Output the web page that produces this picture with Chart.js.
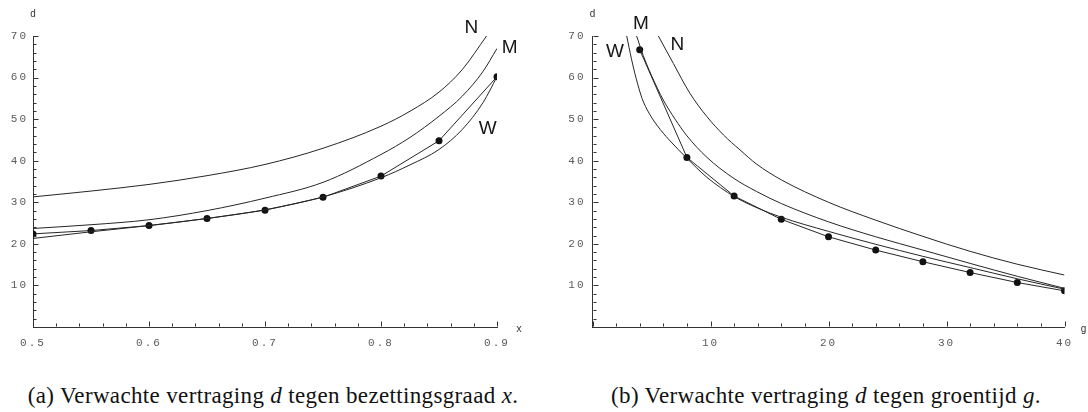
<!DOCTYPE html>
<html>
<head>
<meta charset="utf-8">
<script src="https://cdn.jsdelivr.net/npm/chart.js@4/dist/chart.umd.min.js"></script>
<style>
  html, body { margin: 0; padding: 0; background: #fff; }
  body { width: 1088px; height: 412px; position: relative; overflow: hidden; }
  .wrap { position: absolute; top: 0; width: 544px; height: 360px; }
  .cap { position: absolute; top: 383px; transform: translateX(-50%); white-space: nowrap;
         font-family: "Liberation Serif", "DejaVu Serif", serif; font-size: 23px; letter-spacing: 0.35px; color: #111; }
</style>
</head>
<body>
<div class="wrap" style="left:0"><canvas id="left"></canvas></div>
<div class="wrap" style="left:544px"><canvas id="right"></canvas></div>
<div class="cap" style="left:273px">(a) Verwachte vertraging <i>d</i> tegen bezettingsgraad <i>x</i>.</div>
<div class="cap" style="left:826px">(b) Verwachte vertraging <i>d</i> tegen groentijd <i>g</i>.</div>
<script>
// (a) delay d against occupancy x
const xTicksA = [0.5, 0.6, 0.7, 0.8, 0.9];
const dotsXA = [0.5, 0.55, 0.6, 0.65, 0.7, 0.75, 0.8, 0.85, 0.9];
const dotsDA = [22.4, 23.2, 24.4, 26.1, 28.1, 31.2, 36.3, 44.8, 60.2];
const nXA = [0.5, 0.55, 0.6, 0.65, 0.7, 0.75, 0.8, 0.825, 0.85, 0.87, 0.891];
const nDA = [31.3, 32.7, 34.3, 36.4, 39.1, 43.0, 48.3, 51.9, 56.5, 61.9, 70.0];
const mXA = [0.5, 0.55, 0.6, 0.65, 0.7, 0.75, 0.8, 0.825, 0.85, 0.87, 0.888, 0.9];
const mDA = [23.7, 24.6, 25.8, 28.0, 31.0, 34.8, 41.5, 45.6, 50.7, 55.5, 61.5, 67.0];
const wXA = [0.5, 0.55, 0.6, 0.65, 0.7, 0.75, 0.8, 0.825, 0.85, 0.87, 0.888, 0.9];
const wDA = [21.3, 22.9, 24.4, 26.1, 28.2, 31.3, 35.9, 39.0, 42.7, 47.5, 54.0, 60.2];

// (b) delay d against green time g
const xTicksB = [10, 20, 30, 40];
const dotsXB = [4, 8, 12, 16, 20, 24, 28, 32, 36, 40];
const dotsDB = [66.7, 40.8, 31.5, 25.9, 21.7, 18.5, 15.7, 13.1, 10.7, 8.7];
const nXB = [5.58, 6.85, 8.26, 9.7, 11.1, 12.5, 13.9, 16, 20, 24, 28, 32, 36, 40];
const nDB = [70, 63.4, 56.2, 50.6, 46.2, 42.6, 39.2, 35.4, 30.0, 25.7, 21.8, 18.2, 15.1, 12.5];
const mXB = [3.74, 4.3, 5.0, 6.0, 7.0, 8, 9.7, 11.9, 13.9, 16, 20, 24, 28, 32, 36, 40];
const mDB = [70, 65.3, 60.5, 54.6, 50.0, 46.0, 40.8, 35.9, 32.6, 29.7, 25.3, 21.7, 18.5, 15.3, 12.2, 9.3];
const wXB = [2.9, 3.3, 3.7, 4.2, 4.8, 5.5, 6.5, 8, 9.7, 12, 14, 16, 20, 24, 28, 32, 36, 40];
const wDB = [70, 64.5, 59.8, 55.0, 51.4, 48.4, 45.0, 40.6, 36.0, 31.4, 28.6, 26.4, 23.0, 19.9, 17.0, 14.3, 11.6, 9.1];

const yTicks = [10, 20, 30, 40, 50, 60, 70];

const INK = '#262626';
const tickFont = { family: "'Liberation Mono', 'DejaVu Sans Mono', monospace", size: 11 };

const pts = (xs, ys) => xs.map((x, i) => ({ x, y: ys[i] }));

function curve(xs, ys) {
  return { data: pts(xs, ys), borderColor: INK, borderWidth: 1, pointRadius: 0,
           cubicInterpolationMode: 'monotone', fill: false };
}
function dots(xs, ys) {
  return { data: pts(xs, ys), borderColor: INK, borderWidth: 1, pointRadius: 3.5,
           pointBackgroundColor: '#111', pointBorderWidth: 0, tension: 0, fill: false };
}

// inward minor/major ticks, axis letters and curve names
const decor = {
  id: 'decor',
  beforeDraw(chart) { chart.ctx.letterSpacing = '2px'; },
  afterDraw(chart, args, o) {
    const { ctx, chartArea: a, scales: { x, y } } = chart;
    const xFrom = Number(o.xFrom), xTo = Number(o.xTo), xStep = Number(o.xStep);
    ctx.save();
    ctx.letterSpacing = '0px';
    ctx.setLineDash([]);
    ctx.strokeStyle = '#333';
    ctx.lineWidth = 1;
    const bx = Math.round(a.bottom) - 0.5;
    const lx = Math.round(a.left) + 0.5;
    const n = Math.round((xTo - xFrom) / xStep);
    for (let i = 0; i <= n; i++) {
      const p = Math.round(x.getPixelForValue(xFrom + i * xStep)) + 0.5;
      const len = i % 5 === 0 ? 5 : 3;
      ctx.beginPath(); ctx.moveTo(p, bx); ctx.lineTo(p, bx - len); ctx.stroke();
    }
    for (let i = 0; i <= 35; i++) {
      const p = Math.round(y.getPixelForValue(i * 2)) + 0.5;
      const len = i % 5 === 0 ? 5 : 3;
      ctx.beginPath(); ctx.moveTo(lx, p); ctx.lineTo(lx + len, p); ctx.stroke();
    }

    ctx.fillStyle = '#333';
    ctx.font = "10px 'Liberation Mono', monospace";
    ctx.textAlign = 'center';
    ctx.textBaseline = 'middle';
    ctx.fillText('d', a.left, a.top - 22);
    ctx.fillText(o.xLetter, a.right + o.xLetterDx, a.bottom + 2);

    ctx.fillStyle = '#161616';
    ctx.font = "19px 'Liberation Sans', Arial, sans-serif";
    o.labels.forEach(l => {
      ctx.fillText(l.t, x.getPixelForValue(l.x), y.getPixelForValue(l.y));
    });
    ctx.restore();
  }
};

function makeChart(id, c) {
  return new Chart(document.getElementById(id), {
    type: 'line',
    data: { datasets: c.datasets },
    options: {
      responsive: true,
      maintainAspectRatio: false,
      animation: false,
      layout: { padding: { top: 36, right: c.padRight, left: 0, bottom: 0 } },
      plugins: { legend: { display: false }, tooltip: { enabled: false }, decor: c.decor },
      scales: {
        x: {
          type: 'linear', min: c.xMin, max: c.xMax,
          afterBuildTicks: s => { s.ticks = c.xTicks.map(v => ({ value: v })); },
          afterFit: s => { s.height = 33; },
          grid: { display: false, drawTicks: false },
          border: { display: true, color: '#333', width: 1 },
          ticks: { font: tickFont, color: '#5a5a5a', padding: 9, maxRotation: 0, autoSkip: false,
                   callback: c.xFmt }
        },
        y: {
          type: 'linear', min: 0, max: 70,
          afterBuildTicks: s => { s.ticks = yTicks.map(v => ({ value: v })); },
          afterFit: s => { s.width = c.axisLeft; },
          grid: { display: false, drawTicks: false },
          border: { display: true, color: '#333', width: 1 },
          ticks: { font: tickFont, color: '#5a5a5a', padding: c.yPad }
        }
      }
    },
    plugins: [decor]
  });
}

makeChart('left', {
  datasets: [curve(nXA, nDA), curve(mXA, mDA), curve(wXA, wDA), dots(dotsXA, dotsDA)],
  xMin: 0.5, xMax: 0.9, xTicks: xTicksA, xFmt: v => v.toFixed(1),
  axisLeft: 33, padRight: 47, yPad: 5,
  decor: {
    xFrom: 0.5, xTo: 0.9, xStep: 0.02, xLetter: 'x', xLetterDx: 22,
    labels: [{ t: 'N', x: 0.878, y: 71.9 }, { t: 'M', x: 0.911, y: 67.1 }, { t: 'W', x: 0.892, y: 47.8 }]
  }
});

makeChart('right', {
  datasets: [curve(nXB, nDB), curve(mXB, mDB), curve(wXB, wDB), dots(dotsXB, dotsDB)],
  xMin: 0, xMax: 40, xTicks: xTicksB, xFmt: v => String(v),
  axisLeft: 48.5, padRight: 23.5, yPad: 7,
  decor: {
    xFrom: 0, xTo: 40, xStep: 2, xLetter: 'g', xLetterDx: 19,
    labels: [{ t: 'M', x: 4.1, y: 72.9 }, { t: 'W', x: 1.9, y: 66.2 }, { t: 'N', x: 7.2, y: 67.8 }]
  }
});
</script>
</body>
</html>
